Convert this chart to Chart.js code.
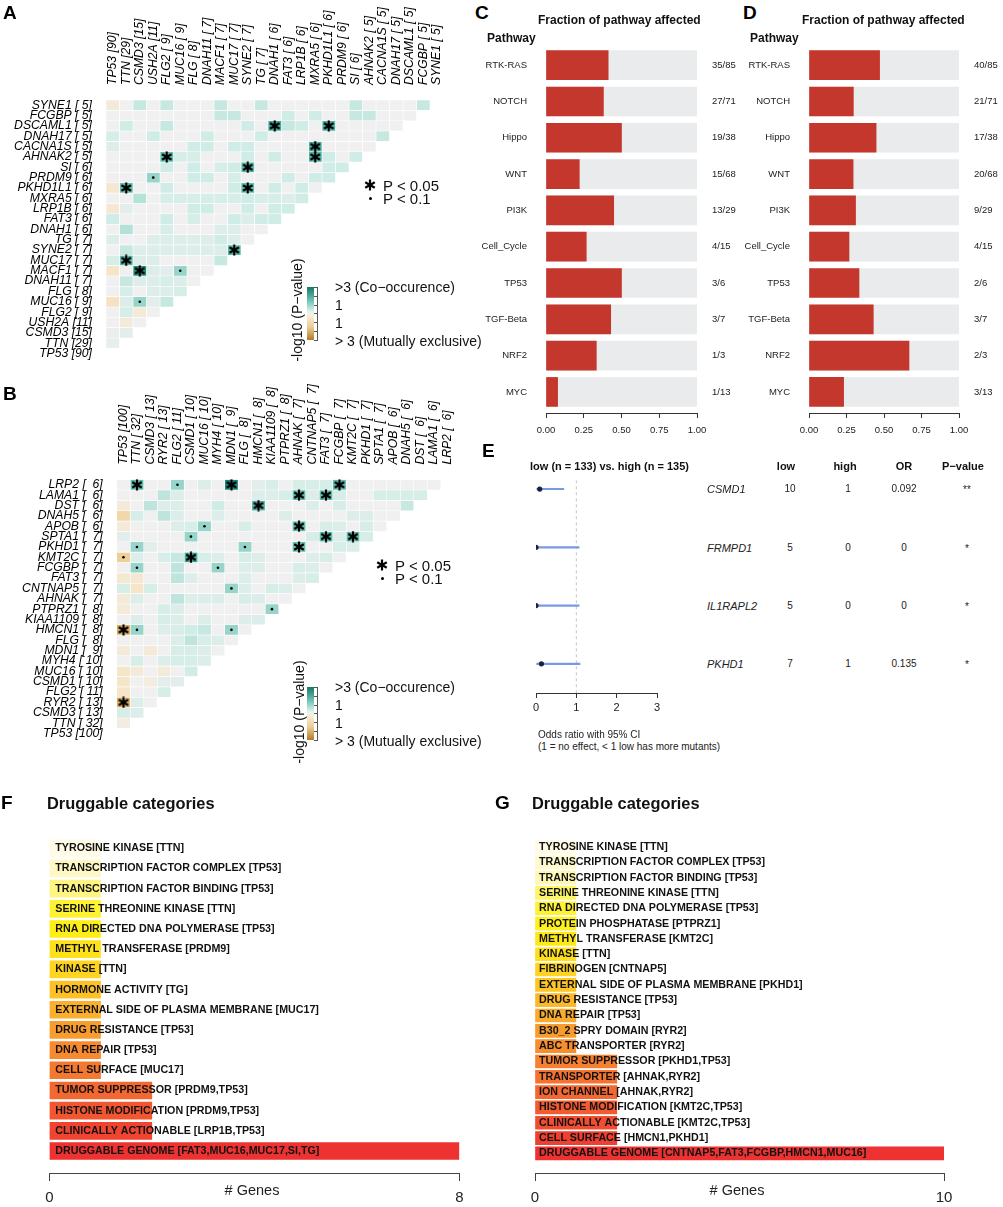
<!DOCTYPE html>
<html>
<head>
<meta charset="utf-8">
<script src="https://cdn.jsdelivr.net/npm/chart.js@4.4.1/dist/chart.umd.min.js"></script>
<style>
  body { margin: 0; background: #fff; }
  #fig { position: relative; width: 1003px; height: 1207px; overflow: hidden; font-family: "Liberation Sans", Arial, sans-serif; color: #111; }
  #fig canvas { position: absolute; }
  .t { position: absolute; white-space: pre; line-height: 1; }
</style>
</head>
<body>
<div id="fig"></div>
<script>
// ---- panel A : somatic interactions (cohort 1) ----
const genesA = ['TP53','TTN','CSMD3','USH2A','FLG2','MUC16','FLG','DNAH11','MACF1','MUC17','SYNE2','TG','DNAH1','FAT3','LRP1B','MXRA5','PKHD1L1','PRDM9','SI','AHNAK2','CACNA1S','DNAH17','DSCAML1','FCGBP','SYNE1'];
const countsA = [90,29,15,11,9,9,8,7,7,7,7,7,6,6,6,6,6,6,6,5,5,5,5,5,5];
// signed -log10(p), rows listed top to bottom (SYNE1 ... TP53), one value per column left of the diagonal
const heatA = [
  [-0.3,0,0.6,0,0.6,0,0,0,0.6,0,0,0.6,0,0,0,0,0,0,0.6,0,0,0,0,0.6],
  [0,0,0,0,0,0,0,0,0.6,0.6,0,0,0,0.5,0,0.5,0,0,0.6,0.6,0,0,0],
  [0,0.5,0,0,0.6,0,0,0,0,0,0.5,0,2.0,0.6,0.5,0,1.8,0,0,0,0,0],
  [0.4,0,0,0.5,0,0,0,0.5,0,0,0,0.5,0,0,0,0,0,0,0,0,0.6],
  [0.3,0,0,0,0,0,0.5,0.5,0,0.5,0.5,0,0,0,0,1.8,0,0,0,0],
  [0,0,0,0,1.6,0.4,0.4,0,0,0,0.5,0,0.5,0,0,1.8,0.5,0,0.5],
  [0,0,0,0,0.5,0,0.5,0,0.4,0.5,1.6,0,0,0,0,0,0.5,0.5],
  [0,0,0,1.1,0,0,0.5,0.5,0,0.4,0,0,0,0.5,0,0.5,0.5],
  [-0.4,1.6,0,0,0.5,0,0,0,0,0.5,1.6,0,0.5,0,0.5,0],
  [0,0,0.8,0,0.4,0.4,0.4,0.4,0.4,0.4,0.5,0.4,0.4,0.3,0.5],
  [-0.4,0.2,0,0,0,0,0.5,0.5,0,0,0.5,0,0.5,0.5],
  [0.5,0,0,0,0.5,0,0.4,0,0,0.5,0.3,0.5,0.5],
  [0,0.8,0,0,0.4,0,0,0,0.3,0.3,0,0],
  [0.3,0,0,0.3,0.3,0.3,0.3,0.3,0.5,0.3,0],
  [0,0.6,0.3,0.3,0.3,0.3,0.3,0.3,0.3,1.7],
  [0.4,1.6,0.3,0.3,0,0,0,0,0.6],
  [-0.5,0,2.5,0.3,0.2,1.1,0,0],
  [0,0.6,0.3,0.3,0.4,0.3,0],
  [0,0.4,0,0.3,0.3,0.4],
  [-0.6,0.3,1.1,0.2,0.6],
  [0,0.4,-0.3,0],
  [0,-0.3,0],
  [0.1,0.2],
  [0.15],
  []
];
const starsA = [['DSCAML1',12],['DSCAML1',16],['CACNA1S',15],['AHNAK2',4],['AHNAK2',15],['SI',10],['PKHD1L1',1],['PKHD1L1',10],['SYNE2',9],['MUC17',1],['MACF1',2]];
const dotsA = [['PRDM9',3],['MACF1',5],['MUC16',2]];

// ---- panel B : somatic interactions (cohort 2) ----
const genesB = ['TP53','TTN','CSMD3','RYR2','FLG2','CSMD1','MUC16','MYH4','MDN1','FLG','HMCN1','KIAA1109','PTPRZ1','AHNAK','CNTNAP5','FAT3','FCGBP','KMT2C','PKHD1','SPTA1','APOB','DNAH5','DST','LAMA1','LRP2'];
const countsB = [100,32,13,13,11,10,10,10,9,8,8,8,8,7,7,7,7,7,7,7,6,6,6,6,6];
const heatB = [
  [0,1.6,0,0,1.1,0,0.3,0,2.6,0,0.2,0.4,0,0.4,0.4,0.4,1.6,0,0,0,0,0,0,0],
  [0,0,0,0.7,0.3,0,0,0,0,0,0.3,0.3,0.4,1.6,0.3,1.6,0.4,0,0,0.4,0.4,0.4,0.4],
  [-0.3,0,0.7,0.3,0.3,0,0,0.5,0,0,1.7,0,0,0,0.3,0,0.4,0,0,0,0,0.6],
  [-0.9,0.4,0,0.7,0.3,0,0,0.3,0,0,0,0,0.3,0,0,0,0,0.3,0.3,0,0],
  [-0.3,0,0,0,0.3,0.4,1.1,0,0,0.4,0,0,0,1.6,0,0.4,0.3,0,0.4,0],
  [0.2,0,0,0,0,1.1,0,0,0,0,0,0,0,0,0.4,1.6,0.3,1.6,0.4],
  [0,1.1,0.2,0,0,0,0,0,0,1.1,0,0,0,1.6,0,0,0.4,0.3],
  [-1.1,0.3,0,0.4,0.6,2.0,0.4,0.3,0,0.4,0.3,0,0,0,0.3,0.4,0],
  [0,1.1,0,0,0.7,0,0,1.1,0,0.3,0.3,0,0,0.4,0.3,0],
  [-0.4,-0.4,0,0,0.7,0.3,0,0,0,0.3,0,0,0,0.3,0.4],
  [0.4,-0.5,0.4,0,0,0,0,0,1.1,0.3,0,0.4,0.3,0],
  [-0.3,0.3,0,0,0.7,0.3,0.3,0.3,0,0.4,0.3,0,0],
  [-0.3,0,0,0.4,0.3,0,0,0,0,0,0,1.1],
  [0,0.3,0,0.4,0.3,0,0.3,0,0,0.3,0.3],
  [-1.8,1.1,0,0.3,0.4,0.5,0.6,0,1.1,0],
  [0,0,0,0,0.3,0.7,0.4,0.3,0],
  [-0.3,0,-0.3,0,0.4,0.4,0.3,0],
  [0,0.4,0,0.3,0.4,0.4,0.3],
  [-0.5,-0.3,0,-0.3,0,0.5],
  [-0.5,0,-0.2,0.2,0.2],
  [-0.5,0,0,0.4],
  [-1.8,0.3,0],
  [0.4,0.3],
  [-0.2],
  []
];
const starsB = [['LRP2',1],['LRP2',8],['LRP2',16],['LAMA1',13],['LAMA1',15],['DST',10],['APOB',13],['SPTA1',15],['SPTA1',17],['PKHD1',13],['KMT2C',5],['HMCN1',0],['RYR2',0]];
const dotsB = [['LRP2',4],['APOB',6],['SPTA1',5],['PKHD1',1],['PKHD1',9],['KMT2C',0],['FCGBP',1],['FCGBP',7],['CNTNAP5',8],['PTPRZ1',11],['HMCN1',1],['HMCN1',8]];

// ---- panels C / D : oncogenic pathways ----
const pathways = ['RTK-RAS','NOTCH','Hippo','WNT','PI3K','Cell_Cycle','TP53','TGF-Beta','NRF2','MYC'];
const pathwayTotal = [85,71,38,68,29,15,6,7,3,13];
const affectedC = [35,27,19,15,13,4,3,3,1,1];
const affectedD = [40,21,17,20,9,4,2,3,2,3];

// ---- panel E : forest plot ----
const forestGenes = ['CSMD1','FRMPD1','IL1RAPL2','PKHD1'];
const lowCount = [10,5,5,7];
const highCount = [1,0,0,1];
const oddsRatio = [0.092,0,0,0.135];
const ciLow = [0.02,0,0,0.016];
const ciHigh = [0.69,1.07,1.07,1.09];
const pStars = ['**','*','*','*'];

// ---- panels F / G : druggable categories ----
const drugCatsF = ['TYROSINE KINASE [TTN]','TRANSCRIPTION FACTOR COMPLEX [TP53]','TRANSCRIPTION FACTOR BINDING [TP53]','SERINE THREONINE KINASE [TTN]','RNA DIRECTED DNA POLYMERASE [TP53]','METHYL TRANSFERASE [PRDM9]','KINASE [TTN]','HORMONE ACTIVITY [TG]','EXTERNAL SIDE OF PLASMA MEMBRANE [MUC17]','DRUG RESISTANCE [TP53]','DNA REPAIR [TP53]','CELL SURFACE [MUC17]','TUMOR SUPPRESSOR [PRDM9,TP53]','HISTONE MODIFICATION [PRDM9,TP53]','CLINICALLY ACTIONABLE [LRP1B,TP53]','DRUGGABLE GENOME [FAT3,MUC16,MUC17,SI,TG]'];
const drugCountF = [1,1,1,1,1,1,1,1,1,1,1,1,2,2,2,8];
const drugCatsG = ['TYROSINE KINASE [TTN]','TRANSCRIPTION FACTOR COMPLEX [TP53]','TRANSCRIPTION FACTOR BINDING [TP53]','SERINE THREONINE KINASE [TTN]','RNA DIRECTED DNA POLYMERASE [TP53]','PROTEIN PHOSPHATASE [PTPRZ1]','METHYL TRANSFERASE [KMT2C]','KINASE [TTN]','FIBRINOGEN [CNTNAP5]','EXTERNAL SIDE OF PLASMA MEMBRANE [PKHD1]','DRUG RESISTANCE [TP53]','DNA REPAIR [TP53]','B30_2 SPRY DOMAIN [RYR2]','ABC TRANSPORTER [RYR2]','TUMOR SUPPRESSOR [PKHD1,TP53]','TRANSPORTER [AHNAK,RYR2]','ION CHANNEL [AHNAK,RYR2]','HISTONE MODIFICATION [KMT2C,TP53]','CLINICALLY ACTIONABLE [KMT2C,TP53]','CELL SURFACE [HMCN1,PKHD1]','DRUGGABLE GENOME [CNTNAP5,FAT3,FCGBP,HMCN1,MUC16]'];
const drugCountG = [1,1,1,1,1,1,1,1,1,1,1,1,1,1,2,2,2,2,2,2,10];

const FONT = '"Liberation Sans", Arial, sans-serif';
Chart.defaults.font.family = FONT;
Chart.defaults.color = '#222';
Chart.defaults.animation = false;
Chart.defaults.events = [];
Chart.defaults.plugins.legend.display = false;
Chart.defaults.plugins.tooltip.enabled = false;

const fig = document.getElementById('fig');

function canvasAt(left, top, w, h) {
  const c = document.createElement('canvas');
  c.width = w; c.height = h;
  c.style.left = left + 'px'; c.style.top = top + 'px';
  c.style.width = w + 'px'; c.style.height = h + 'px';
  fig.appendChild(c);
  return c;
}

function txt(x, y, s, css, align, rot) {
  const d = document.createElement('div');
  d.className = 't';
  d.textContent = s;
  const tx = align === 'c' ? '-50%' : align === 'r' ? '-100%' : '0';
  d.style.cssText = `left:${x}px;top:${y}px;transform:translate(${tx},-50%)${rot ? ' rotate(-90deg)' : ''};${css}`;
  fig.appendChild(d);
  return d;
}

function mix(stops, v) {
  if (v <= stops[0][0]) return stops[0][1];
  for (let i = 1; i < stops.length; i++) {
    if (v <= stops[i][0]) {
      const [a, ca] = stops[i - 1], [b, cb] = stops[i];
      const t = (v - a) / (b - a);
      return ca.map((x, k) => Math.round(x + (cb[k] - x) * t));
    }
  }
  return stops[stops.length - 1][1];
}
const heatStops = [[-3,[176,118,32]],[-1.8,[222,174,98]],[-1,[239,212,162]],[-0.5,[245,230,202]],[0,[240,240,240]],[0.5,[208,236,230]],[1,[162,217,207]],[1.5,[108,194,180]],[2,[72,172,157]],[3,[14,112,98]]];
const heatColor = v => 'rgb(' + mix(heatStops, v).join(',') + ')';
const rampStops = [[0,[255,251,230]],[0.1,[255,247,180]],[0.18,[255,243,60]],[0.27,[255,238,20]],[0.4,[255,212,32]],[0.55,[250,170,45]],[0.7,[246,128,47]],[0.85,[242,90,48]],[1,[238,50,50]]];
const ramp = t => 'rgb(' + mix(rampStops, t).join(',') + ')';

function starCanvas(size, lw) {
  const c = document.createElement('canvas');
  c.width = c.height = size;
  const g = c.getContext('2d');
  g.strokeStyle = '#000'; g.lineWidth = lw;
  const m = size / 2, r = size / 2 - 0.5;
  for (let k = 0; k < 3; k++) {
    const a = Math.PI / 2 + k * Math.PI / 3;
    g.beginPath();
    g.moveTo(m + r * Math.cos(a), m + r * Math.sin(a));
    g.lineTo(m - r * Math.cos(a), m - r * Math.sin(a));
    g.stroke();
  }
  return c;
}
const STAR = starCanvas(12, 2.2);

// heatmap: lower triangle of floating bars, one dataset per column
function heatmap(left, top, w, h, area, genes, counts, pad, rows, stars, dots) {
  const n = genes.length;
  const lab = genes.map((g, i) => g + ' [' + String(counts[i]).padStart(pad, ' ') + ']');
  const at = p => ({ x: p[1] + 0.5, y: lab[genes.indexOf(p[0])] });
  const datasets = [
    { type: 'scatter', data: stars.map(at), pointStyle: STAR, pointRadius: 6 },
    { type: 'scatter', data: dots.map(at), pointStyle: 'circle', pointRadius: 1.3, backgroundColor: '#000', borderWidth: 0 }
  ];
  for (let c = 0; c < n - 1; c++) {
    const data = [];
    for (let g = c + 1; g < n; g++) data.push({ x: [c, c + 1], y: lab[g], v: rows[n - 1 - g][c] });
    datasets.push({
      type: 'bar', data, grouped: false, barPercentage: 1, categoryPercentage: 1,
      backgroundColor: ctx => heatColor(ctx.raw ? ctx.raw.v : 0),
      borderColor: '#fff', borderWidth: 0.6, borderSkipped: false
    });
  }
  new Chart(canvasAt(left, top, w, h), {
    type: 'bar',
    data: { datasets },
    options: {
      responsive: false,
      indexAxis: 'y',
      layout: { padding: { left: 0, top: 0, right: left + w - area.r, bottom: top + h - area.b } },
      scales: {
        x: {
          type: 'linear', position: 'top', min: 0, max: n, offset: false,
          grid: { display: false }, border: { display: false },
          afterBuildTicks: s => { s.ticks = lab.map((_, i) => ({ value: i + 0.5 })); },
          afterFit: s => { s.height = area.t - top; },
          // lineHeight 0 keeps rotated labels centred on their column
          ticks: { autoSkip: false, minRotation: 90, maxRotation: 90, padding: 7, color: '#000', font: { size: 12.2, style: 'italic', lineHeight: 0 }, callback: (v, i) => lab[i] }
        },
        y: {
          type: 'category', labels: lab.slice().reverse(), offset: true,
          grid: { display: false }, border: { display: false },
          afterFit: s => { s.width = area.l - left; },
          ticks: { autoSkip: false, padding: 6, color: '#000', font: { size: 12.2, style: 'italic' } }
        }
      }
    }
  });
}

function heatLegend(starX, starY, cbTop, rotX, rotY) {
  const s = starCanvas(12, 2.2);
  s.style.left = (starX - 6) + 'px'; s.style.top = (starY - 6) + 'px';
  fig.appendChild(s);
  txt(starX + 13, starY, 'P < 0.05', 'font-size:15px;');
  const d = document.createElement('div');
  d.style.cssText = `position:absolute;left:${starX - 1.5}px;top:${starY + 11.5}px;width:3px;height:3px;border-radius:50%;background:#000;`;
  fig.appendChild(d);
  txt(starX + 13, starY + 13, 'P < 0.1', 'font-size:15px;');
  const cb = document.createElement('div');
  cb.style.cssText = `position:absolute;left:306.5px;top:${cbTop}px;width:7px;height:53px;background:linear-gradient(to bottom,#16786a 0%,#6cc1b2 25%,#e4f3ef 47%,#f6efe0 53%,#ebcf95 75%,#b57a24 100%);`;
  fig.appendChild(cb);
  for (let k = 0; k < 7; k++) {
    const tk = document.createElement('div');
    tk.style.cssText = `position:absolute;left:314px;top:${cbTop + k * 8.8}px;width:4px;height:1px;background:#555;`;
    fig.appendChild(tk);
  }
  fig.appendChild(Object.assign(document.createElement('div'), { style: `position:absolute;left:317px;top:${cbTop}px;width:1px;height:53px;background:#555;` }));
  txt(335, cbTop, '>3 (Co\u2212occurence)', 'font-size:14px;');
  txt(335, cbTop + 18, '1', 'font-size:14px;');
  txt(335, cbTop + 36, '1', 'font-size:14px;');
  txt(335, cbTop + 53.5, '> 3 (Mutually exclusive)', 'font-size:14px;');
  txt(rotX, rotY, '-log10 (P\u2212value)', 'font-size:14px;', 'c', true);
}

// pathway fraction bars
function pathwayChart(left, top, w, h, area, affected) {
  const rowTicks = s => { s.ticks = pathways.map((_, i) => ({ value: i + 1 })); };
  const yBase = { type: 'linear', min: 0.5, max: 10.58, reverse: true, offset: false, grid: { display: false }, border: { display: false }, afterBuildTicks: rowTicks };
  new Chart(canvasAt(left, top, w, h), {
    type: 'bar',
    data: {
      datasets: [
        { data: affected.map((a, i) => ({ x: a / pathwayTotal[i], y: i + 1 })), backgroundColor: '#c4372c', barThickness: 29, grouped: false },
        { data: pathways.map((_, i) => ({ x: 1, y: i + 1 })), backgroundColor: '#e9ebec', barThickness: 29, grouped: false }
      ]
    },
    options: {
      responsive: false,
      indexAxis: 'y',
      layout: { padding: { top: area.t - top, left: 0, right: 0, bottom: 0 } },
      scales: {
        x: {
          type: 'linear', min: 0, max: 1, offset: false,
          grid: { drawOnChartArea: false, tickLength: 5, color: '#333' }, border: { color: '#333' },
          afterFit: s => { s.height = top + h - area.b; },
          ticks: { stepSize: 0.25, padding: 7, font: { size: 9.5 }, color: '#222', callback: v => v.toFixed(2) }
        },
        y: Object.assign({}, yBase, {
          position: 'left', afterFit: s => { s.width = area.l - left; },
          ticks: { autoSkip: false, padding: 11, font: { size: 9.5 }, color: '#222', callback: (v, i) => pathways[i] }
        }),
        y2: Object.assign({}, yBase, {
          position: 'right', afterFit: s => { s.width = left + w - area.r; },
          ticks: { autoSkip: false, padding: 7, font: { size: 9.5 }, color: '#222', callback: (v, i) => affected[i] + '/' + pathwayTotal[i] }
        })
      }
    }
  });
}

// druggable categories bars, labels drawn over the bars
function drugChart(left, top, w, h, area, cats, counts, maxX, thick, yMax, pad) {
  new Chart(canvasAt(left, top, w, h), {
    type: 'bar',
    data: {
      datasets: [{
        data: counts.map((c, i) => ({ x: c, y: i + 1 })),
        backgroundColor: counts.map((_, i) => ramp(i / (counts.length - 1))),
        barThickness: thick, grouped: false
      }]
    },
    options: {
      responsive: false,
      indexAxis: 'y',
      layout: { padding: { top: area.t - top, right: left + w - area.r, left: 0, bottom: 0 } },
      scales: {
        x: {
          type: 'linear', min: 0, max: maxX, offset: false,
          grid: { drawOnChartArea: false, tickLength: 8, color: '#444' }, border: { color: '#444' },
          afterFit: s => { s.height = top + h - area.b; },
          ticks: { stepSize: maxX, padding: 8, font: { size: 15 }, color: '#222' }
        },
        y: {
          type: 'linear', min: 0.5, max: yMax, reverse: true, offset: false,
          grid: { display: false }, border: { display: false },
          afterBuildTicks: s => { s.ticks = cats.map((_, i) => ({ value: i + 1 })); },
          afterFit: s => { s.width = area.l - left; },
          ticks: { autoSkip: false, mirror: true, z: 1, padding: pad, color: '#111', font: { size: 10.7, weight: 'bold' }, callback: (v, i) => cats[i] }
        }
      }
    }
  });
}

// ---------- build ----------
heatmap(0, 0, 460, 372, { l: 106, t: 100, r: 443.5, b: 370 }, genesA, countsA, 2, heatA, starsA, dotsA);
heatLegend(370, 185, 287, 297, 310);
heatmap(0, 380, 470, 372, { l: 116.7, t: 479.6, r: 454.2, b: 749.6 }, genesB, countsB, 3, heatB, starsB, dotsB);
heatLegend(382, 565, 687, 299, 712);

pathwayChart(470, 30, 270, 415, { l: 546, t: 47, r: 697, b: 413 }, affectedC);
pathwayChart(740, 30, 263, 415, { l: 809, t: 47, r: 959, b: 413 }, affectedD);

// forest plot
new Chart(canvasAt(470, 470, 200, 250), {
  type: 'bar',
  data: {
    datasets: [
      { type: 'scatter', data: oddsRatio.map((v, i) => ({ x: v, y: i + 1 })), pointRadius: 2.6, backgroundColor: '#1d2042', borderWidth: 0 },
      { type: 'bar', data: ciLow.map((lo, i) => ({ x: [lo, ciHigh[i]], y: i + 1 })), backgroundColor: '#7b98e2', barThickness: 1.5, grouped: false },
      { type: 'line', data: [{ x: 1, y: 0.85 }, { x: 1, y: 4.5 }], borderColor: '#c4c4c4', borderDash: [3, 3], borderWidth: 1, pointRadius: 0 }
    ]
  },
  options: {
    responsive: false,
    indexAxis: 'y',
    layout: { padding: { left: 66, top: 10.3, right: 13, bottom: 0 } },
    scales: {
      x: {
        type: 'linear', min: 0, max: 3, offset: false,
        grid: { drawOnChartArea: false, tickLength: 5, color: '#333' }, border: { color: '#333' },
        afterFit: s => { s.height = 27; },
        ticks: { stepSize: 1, padding: 3, font: { size: 11 }, color: '#222' }
      },
      y: { type: 'linear', display: false, min: 0.85, max: 4.5, reverse: true, offset: false }
    }
  }
});

drugChart(0, 790, 480, 417, { l: 49.3, t: 838.2, r: 459.3, b: 1173 }, drugCatsF, drugCountF, 8, 17, 17.09, 6);
drugChart(480, 790, 523, 417, { l: 535, t: 839.3, r: 944, b: 1173 }, drugCatsG, drugCountG, 10, 13, 22.28, 4);

// ---------- text ----------
const LET = 'font-size:19px;font-weight:bold;color:#000;';
txt(3, 12, 'A', LET); txt(3, 393, 'B', LET); txt(475, 12, 'C', LET); txt(743, 12, 'D', LET);
txt(482, 450, 'E', LET); txt(1, 802, 'F', LET); txt(495, 802, 'G', LET);

const TB = 'font-size:12px;font-weight:bold;color:#111;';
txt(538, 20, 'Fraction of pathway affected', TB); txt(487, 38, 'Pathway', TB);
txt(802, 20, 'Fraction of pathway affected', TB); txt(750, 38, 'Pathway', TB);

const EB = 'font-size:11px;font-weight:bold;color:#111;';
txt(530, 466, 'low (n = 133) vs. high (n = 135)', EB);
txt(786, 466, 'low', EB, 'c'); txt(845, 466, 'high', EB, 'c'); txt(904, 466, 'OR', EB, 'c'); txt(963, 466, 'P\u2212value', EB, 'c');
const rowY = [489, 548, 606, 664];
forestGenes.forEach((g, i) => {
  txt(707, rowY[i], g, 'font-size:11px;font-style:italic;color:#222;');
  txt(790, rowY[i], String(lowCount[i]), 'font-size:10px;color:#222;', 'c');
  txt(848, rowY[i], String(highCount[i]), 'font-size:10px;color:#222;', 'c');
  txt(904, rowY[i], String(oddsRatio[i]), 'font-size:10px;color:#222;', 'c');
  txt(967, rowY[i] + 1, pStars[i], 'font-size:10px;color:#222;', 'c');
});
txt(538, 735, 'Odds ratio with 95% CI', 'font-size:10px;color:#222;');
txt(538, 747, '(1 = no effect, < 1 low has more mutants)', 'font-size:10px;color:#222;');

const DT = 'font-size:16.4px;font-weight:bold;color:#111;';
txt(47, 803, 'Druggable categories', DT);
txt(532, 803, 'Druggable categories', DT);
txt(252, 1190, '# Genes', 'font-size:14.5px;color:#222;', 'c');
txt(737, 1190, '# Genes', 'font-size:14.5px;color:#222;', 'c');
</script>
</body>
</html>
